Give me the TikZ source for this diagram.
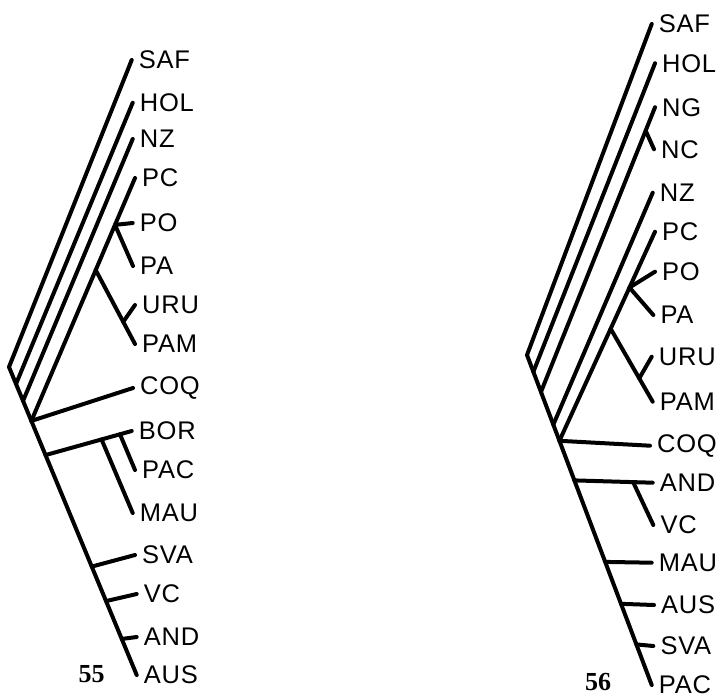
\documentclass[tikz,border=0pt]{standalone}
\usepackage{fontspec}
\usepackage{tikz}
\usetikzlibrary{calc,positioning}
\setmainfont{Liberation Serif}
\newfontfamily\taxonfont[LetterSpace=3]{Liberation Sans}
\tikzset{
  branch/.style={line width=4pt,line cap=round,line join=round,color=black},
  taxon/.style={anchor=west,inner sep=0pt,font=\taxonfont\fontsize{25.5}{30}\selectfont},
  fignum/.style={inner sep=0pt,font=\bfseries\fontsize{26}{30}\selectfont},
}

\begin{document}
\begin{tikzpicture}[x=1pt,y=-1pt]
\useasboundingbox (0,0) rectangle (727,698);

% ── Tree 55: tips and labels ─────────────────────────────────────────────
\foreach \n/\x/\y/\lab in {saf/131.7/60/SAF, hol/132.7/102.7/HOL, nz/132.7/139/NZ,
    pc/135/178/PC, po/132.7/223/PO, pa/133/266/PA, uru/135/305/URU, pam/135/344/PAM,
    coq/133/388/COQ, bor/131.7/431/BOR, pac/135/470/PAC, mau/132.7/513/MAU,
    sva/135/555/SVA, vc/136.7/594/VC, and/136.7/637/AND, aus/136.7/675/AUS} {
  \coordinate (L\n) at (\x,\y);
  \node[taxon, right=7pt of L\n] (Lt\n) {\lab};
}

% ── Tree 55: inner forks ─────────────────────────────────────────────────
\coordinate (Lroot) at (9,367);
\coordinate (Ljhol) at ($(Lroot)!0.055!(Laus)$);
\coordinate (Ljnz)  at ($(Lroot)!0.11!(Laus)$);
\coordinate (Ljpc)  at ($(Lroot)!0.175!(Laus)$);
\coordinate (Ljbor) at ($(Lroot)!0.286!(Laus)$);
\coordinate (Ljsva) at ($(Lroot)!0.648!(Laus)$);
\coordinate (Ljvc)  at ($(Lroot)!0.76!(Laus)$);
\coordinate (Ljand) at ($(Lroot)!0.883!(Laus)$);
\coordinate (Lnpo)  at ($(Ljpc)!0.807!(Lpc)$);
\coordinate (Lnuru) at ($(Ljpc)!0.621!(Lpc)$);
\coordinate (Ljuru) at ($(Lnuru)!0.70!(Lpam)$);
\coordinate (Lnmau) at ($(Ljbor)!0.65!(Lbor)$);
\coordinate (Lnpac) at ($(Ljbor)!0.864!(Lbor)$);

\draw[branch] (Lsaf) -- (Lroot) -- (Laus);
\foreach \a/\b in {Ljhol/Lhol, Ljnz/Lnz, Ljpc/Lpc, Ljpc/Lcoq, Lnpo/Lpo, Lnpo/Lpa,
    Lnuru/Lpam, Ljuru/Luru, Ljbor/Lbor, Lnmau/Lmau, Lnpac/Lpac,
    Ljsva/Lsva, Ljvc/Lvc, Ljand/Land}
  \draw[branch] (\a) -- (\b);

\node[fignum] (n55) at (91.7,673.7) {55};

% ── Tree 56: tips and labels ─────────────────────────────────────────────
\foreach \n/\x/\y/\lab in {saf/651.7/24/SAF, hol/655/63.3/HOL, ng/655/107.3/NG,
    nc/654/149.3/NC, nz/652.7/192.7/NZ, pc/655/231.7/PC, po/655/271.7/PO,
    pa/653.3/315/PA, uru/651.7/356.7/URU, pam/652.7/401.7/PAM, coq/650/445.7/COQ,
    and/652.7/482.7/AND, vc/653.3/525/VC, mau/651.7/562.7/MAU, aus/654/605/AUS,
    sva/653.3/646/SVA, pac/651.7/685/PAC} {
  \coordinate (R\n) at (\x,\y);
  \node[taxon, right=7pt of R\n] (Rt\n) {\lab};
}

% ── Tree 56: inner forks ─────────────────────────────────────────────────
\coordinate (Rroot) at (527,355);
\coordinate (Rjhol) at ($(Rroot)!0.051!(Rpac)$);
\coordinate (Rjng)  at ($(Rroot)!0.112!(Rpac)$);
\coordinate (Rjnz)  at ($(Rroot)!0.211!(Rpac)$);
\coordinate (Rjpc)  at ($(Rroot)!0.26!(Rpac)$);
\coordinate (Rjand) at ($(Rroot)!0.38!(Rpac)$);
\coordinate (Rjmau) at ($(Rroot)!0.627!(Rpac)$);
\coordinate (Rjaus) at ($(Rroot)!0.754!(Rpac)$);
\coordinate (Rjsva) at ($(Rroot)!0.877!(Rpac)$);
\coordinate (Rnnc)  at ($(Rjng)!0.918!(Rng)$);
\coordinate (Rnpo)  at ($(Rjpc)!0.733!(Rpc)$);
\coordinate (Rnuru) at ($(Rjpc)!0.536!(Rpc)$);
\coordinate (Rjuru) at ($(Rnuru)!0.68!(Rpam)$);
\coordinate (Rnvc)  at ($(Rjand)!0.75!(Rand)$);

\draw[branch] (Rsaf) -- (Rroot) -- (Rpac);
\foreach \a/\b in {Rjhol/Rhol, Rjng/Rng, Rnnc/Rnc, Rjnz/Rnz, Rjpc/Rpc, Rjpc/Rcoq,
    Rnpo/Rpo, Rnpo/Rpa, Rnuru/Rpam, Rjuru/Ruru, Rjand/Rand, Rnvc/Rvc,
    Rjmau/Rmau, Rjaus/Raus, Rjsva/Rsva}
  \draw[branch] (\a) -- (\b);

\node[fignum] (n56) at (598,681.7) {56};

\end{tikzpicture}
\end{document}
